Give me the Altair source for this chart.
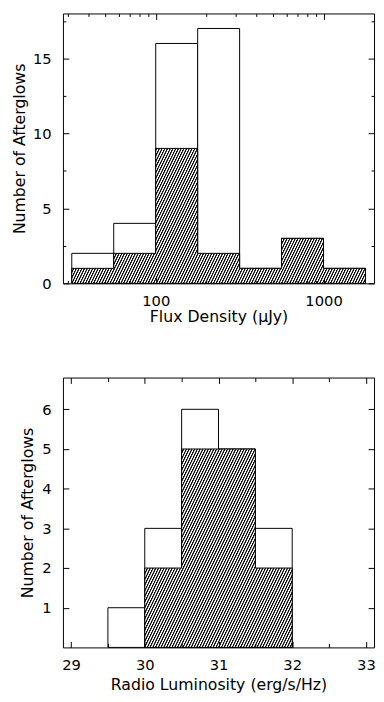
import math
import altair as alt
import pandas as pd

# ---------------- data ----------------
flux_edges = [31.6, 56.2, 100.0, 177.8, 316.2, 562.3, 1000.0, 1778.3]
flux_all = [2, 4, 16, 17, 1, 3, 1]
flux_sub = [1, 2, 9, 2, 1, 3, 1]
flux_major = [100, 1000]
flux_minor = [30, 40, 50, 60, 70, 80, 90, 200, 300, 400, 500, 600, 700, 800, 900]
top_count_major = [0, 5, 10, 15]
top_count_minor = [2.5, 7.5, 12.5, 17.5]

lum_edges = [29.5, 30.0, 30.5, 31.0, 31.5, 32.0]
lum_all = [1, 3, 6, 5, 3]
lum_sub = [0, 2, 5, 5, 2]
lum_major = [29, 30, 31, 32, 33]
lum_minor = [29.5, 30.5, 31.5, 32.5]
bot_count_major = [1, 2, 3, 4, 5, 6]

FLUX_DOMAIN = [28, 2000]
TOP_Y = [0, 18]
LUM_DOMAIN = [28.89, 33.11]
BOT_Y = [0, 6.8]
TOP_W, TOP_H = 317, 275
BOT_W, BOT_H = 317, 275
FONT = "DejaVu Sans"


def bars_df(edges, counts):
    return pd.DataFrame({"lo": edges[:-1], "hi": edges[1:], "n": counts,
                         "zero": [0] * len(counts)})


def step_df(edges, counts):
    nz = [i for i, v in enumerate(counts) if v > 0]
    i0, i1 = nz[0], nz[-1]
    xs = list(edges[i0:i1 + 2])
    ys = list(counts[i0:i1 + 1]) + [counts[i1]]
    return pd.DataFrame({"x": xs, "n": ys})


def hatch(W, H, theta_deg=64, spacing=2.5):
    th = math.radians(theta_deg)
    s, c = math.sin(th), math.cos(th)
    k = (W * s + H * c) / ((W * s) ** 2 + (H * c) ** 2)
    dx, dy = k * W * s, k * H * c
    D = W * s + H * c
    N = max(1, int(round(D / spacing)))
    stops = []
    for i in range(N):
        stops += [
            alt.GradientStop(offset=i / N, color="#111111"),
            alt.GradientStop(offset=(i + 0.32) / N, color="#111111"),
            alt.GradientStop(offset=(i + 0.55) / N, color="white"),
            alt.GradientStop(offset=(i + 0.88) / N, color="white"),
        ]
    stops.append(alt.GradientStop(offset=1, color="#111111"))
    return alt.LinearGradient(gradient="linear", stops=stops, x1=0, y1=0, x2=dx, y2=dy)


def ax(orient, values, size, labels=False, title=None, fmt=None, lpad=None, tpad=None):
    kw = dict(orient=orient, values=values, tickSize=size, offset=-size, domain=False,
              grid=False, labels=labels, ticks=True, tickColor="black", tickWidth=1,
              zindex=1, title=title)
    if fmt:
        kw["format"] = fmt
    if lpad is not None:
        kw["labelPadding"] = lpad
    if tpad is not None:
        kw["titlePadding"] = tpad
    return alt.Axis(**kw)


def panel(edges, total, sub, xscale, yscale, W, H, xaxes, yaxes, hatch_fill):
    bars = bars_df(edges, total)
    step = step_df(edges, sub)

    rect = alt.Chart(bars).mark_rect(fill="white", stroke="black", strokeWidth=1).encode(
        x=alt.X("lo:Q", scale=xscale, axis=xaxes[0]),
        x2="hi",
        y=alt.Y("n:Q", scale=yscale, axis=yaxes[0]),
        y2="zero",
    )
    area = alt.Chart(step).mark_area(
        interpolate="step-after", fill=hatch_fill, stroke="black", strokeWidth=1
    ).encode(
        x=alt.X("x:Q", scale=xscale, axis=xaxes[1]),
        y=alt.Y("n:Q", scale=yscale, stack=None, axis=yaxes[1]),
    )
    inv1 = alt.Chart(bars).mark_rect(opacity=0).encode(
        x=alt.X("lo:Q", scale=xscale, axis=xaxes[2]),
        x2="hi",
        y=alt.Y("n:Q", scale=yscale, axis=yaxes[2]),
        y2="zero",
    )
    inv2 = alt.Chart(bars).mark_rect(opacity=0).encode(
        x=alt.X("lo:Q", scale=xscale, axis=xaxes[3]),
        x2="hi",
        y=alt.Y("n:Q", scale=yscale, axis=yaxes[3]),
        y2="zero",
    )
    return alt.layer(rect, area, inv1, inv2).resolve_axis(
        x="independent", y="independent"
    ).properties(width=W, height=H)


# ---------------- top panel ----------------
fx = alt.Scale(type="log", domain=FLUX_DOMAIN, nice=False)
fy = alt.Scale(domain=TOP_Y, nice=False, zero=False)
fx_log = [math.log10(v) for v in FLUX_DOMAIN]
W_top = (math.log10(flux_edges[-1]) - math.log10(flux_edges[0])) / (fx_log[1] - fx_log[0]) * TOP_W
H_top = max(flux_sub) / (TOP_Y[1] - TOP_Y[0]) * TOP_H

top = panel(
    flux_edges, flux_all, flux_sub, fx, fy, TOP_W, TOP_H,
    [ax("bottom", flux_major, 6, labels=True, title="Flux Density (μJy)", fmt="d", lpad=11, tpad=0),
     ax("top", flux_major, 6),
     ax("bottom", flux_minor, 3),
     ax("top", flux_minor, 3)],
    [ax("left", top_count_major, 6, labels=True, title="Number of Afterglows", fmt="d", lpad=12, tpad=5),
     ax("right", top_count_major, 6),
     ax("left", top_count_minor, 3),
     ax("right", top_count_minor, 3)],
    hatch(W_top, H_top),
)

# ---------------- bottom panel ----------------
lx = alt.Scale(domain=LUM_DOMAIN, nice=False, zero=False)
ly = alt.Scale(domain=BOT_Y, nice=False, zero=False)
first = next(i for i, v in enumerate(lum_sub) if v > 0)
last = max(i for i, v in enumerate(lum_sub) if v > 0)
W_bot = (lum_edges[last + 1] - lum_edges[first]) / (LUM_DOMAIN[1] - LUM_DOMAIN[0]) * BOT_W
H_bot = max(lum_sub) / (BOT_Y[1] - BOT_Y[0]) * BOT_H

bottom = panel(
    lum_edges, lum_all, lum_sub, lx, ly, BOT_W, BOT_H,
    [ax("bottom", lum_major, 6, labels=True, title="Radio Luminosity (erg/s/Hz)", fmt="d", lpad=11, tpad=4),
     ax("top", lum_major, 6),
     ax("bottom", lum_minor, 4),
     ax("top", lum_minor, 4)],
    [ax("left", bot_count_major, 6, labels=True, title="Number of Afterglows", fmt="d", lpad=12, tpad=6),
     ax("right", bot_count_major, 6),
     None, None],
    hatch(W_bot, H_bot),
)

chart = alt.vconcat(top, bottom, spacing=52).properties(
    padding={"left": 3, "top": -2, "right": 0, "bottom": 0}
).configure_axis(
    labelFont=FONT, labelFontSize=15, labelColor="black",
    titleFont=FONT, titleFontSize=16, titleFontWeight="normal", titleColor="black",
).configure_view(stroke="black", strokeWidth=1)

chart.save("out.html", embed_options={"renderer": "svg", "actions": False})
